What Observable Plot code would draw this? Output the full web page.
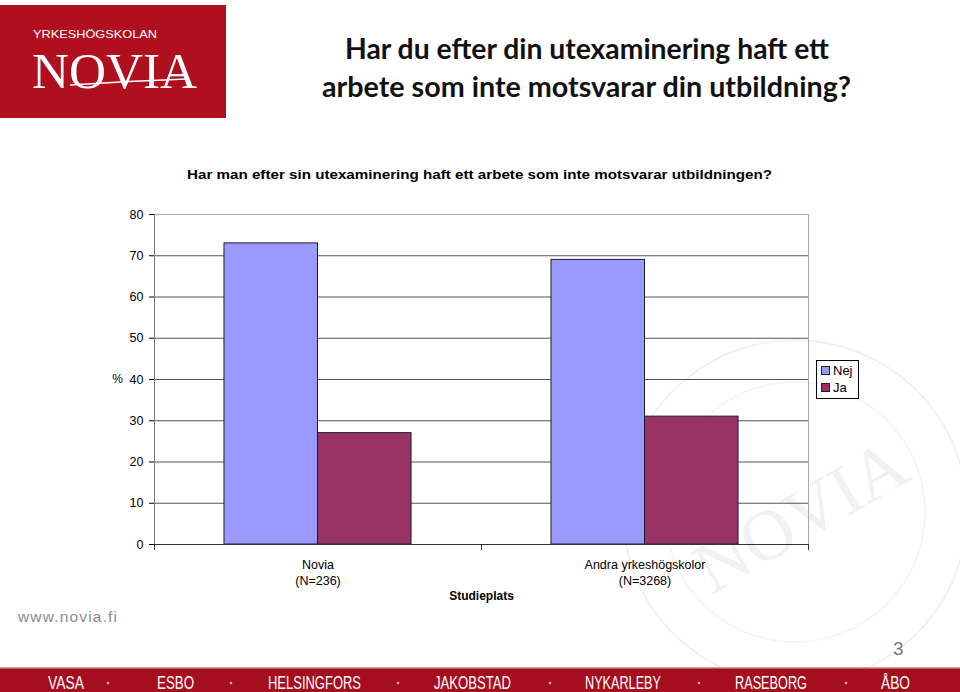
<!DOCTYPE html>
<html>
<head>
<meta charset="utf-8">
<script src="https://cdn.jsdelivr.net/npm/d3@7"></script>
<script src="https://cdn.jsdelivr.net/npm/@observablehq/plot@0.6"></script>
<style>
  html, body { margin: 0; padding: 0; background: #fff; }
  #page { position: relative; width: 960px; height: 692px; overflow: hidden; background: #fff; }
  #deco { position: absolute; left: 0; top: 0; }
  #chart { position: absolute; left: 0; top: 190px; }
  #legend { position: absolute; left: 816px; top: 360px; width: 41px; height: 37px; border: 1px solid #000; background: #fff;
            font-family: "Liberation Sans", Arial, sans-serif; font-size: 13px; color: #000; }
  #legend .item { position: absolute; left: 4px; height: 14px; line-height: 14px; white-space: nowrap; }
  #legend .sw { display: inline-block; width: 7px; height: 7px; border: 1px solid #222; margin-right: 3px; vertical-align: 0px; }
</style>
</head>
<body>
<div id="page">
  <svg id="deco" width="960" height="692"></svg>
  <div id="chart"></div>
  <div id="legend"></div>
</div>
<script>
// ---- data ----
const categories = ["Novia", "Andra yrkeshögskolor"];
const categoryNotes = ["(N=236)", "(N=3268)"];
const series = ["Nej", "Ja"];
const nejValues = [73, 69];
const jaValues = [27, 31];
const yTicks = [0, 10, 20, 30, 40, 50, 60, 70, 80];
const colors = ["#9999FF", "#993366"];
const pageTitle = ["Har du efter din utexaminering haft ett", "arbete som inte motsvarar din utbildning?"];
const chartTitle = "Har man efter sin utexaminering haft ett arbete som inte motsvarar utbildningen?";
const xLabel = "Studieplats";
const yLabel = "%";
const towns = ["VASA", "ESBO", "HELSINGFORS", "JAKOBSTAD", "NYKARLEBY", "RASEBORG", "ÅBO"];

// ---- decoration (slide) ----
const ns = "http://www.w3.org/2000/svg";
const deco = document.getElementById("deco");
function el(tag, attrs, text) {
  const e = document.createElementNS(ns, tag);
  for (const k in attrs) e.setAttribute(k, attrs[k]);
  if (text != null) e.textContent = text;
  deco.appendChild(e);
  return e;
}
// watermark seal
el("circle", {cx: 795, cy: 512, r: 172, fill: "none", stroke: "#f1f1f1", "stroke-width": 2});
el("circle", {cx: 795, cy: 512, r: 130, fill: "none", stroke: "#f4f4f4", "stroke-width": 1.5});
el("text", {x: 800, y: 540, "text-anchor": "middle", transform: "rotate(-30 800 515)", fill: "#f1f1f1",
  "font-family": "Liberation Serif, serif", "font-size": 72}, "NOVIA");
// logo
el("rect", {x: 0, y: 5, width: 226, height: 113, fill: "#AF0F1E"});
el("text", {x: 33, y: 38, fill: "#fff", "font-family": "Liberation Sans, Arial, sans-serif", "font-size": 11.5,
  textLength: 124, lengthAdjust: "spacingAndGlyphs"}, "YRKESHÖGSKOLAN");
el("text", {x: 32, y: 88, fill: "#fff", "font-family": "Liberation Serif, serif", "font-size": 50,
  textLength: 165, lengthAdjust: "spacingAndGlyphs"}, "NOVIA");
el("path", {d: "M70 85 Q130 81 186 79", stroke: "#fff", "stroke-width": 1.3, fill: "none"});
// page title
el("text", {x: 345, y: 59, fill: "#111", "font-family": "Lato, 'Open Sans', sans-serif", "font-weight": 700, "font-size": 29,
  textLength: 484, lengthAdjust: "spacingAndGlyphs"}, pageTitle[0]);
el("text", {x: 322, y: 97, fill: "#111", "font-family": "Lato, 'Open Sans', sans-serif", "font-weight": 700, "font-size": 29,
  textLength: 529, lengthAdjust: "spacingAndGlyphs"}, pageTitle[1]);
// chart title
el("text", {x: 187, y: 179, fill: "#000", "font-family": "Liberation Sans, Arial, sans-serif", "font-weight": 700, "font-size": 13.5,
  textLength: 585, lengthAdjust: "spacingAndGlyphs"}, chartTitle);
// www
el("text", {x: 18, y: 622, fill: "#8c8c8c", "font-family": "Liberation Sans, Arial, sans-serif", "font-size": 15.5,
  textLength: 99, lengthAdjust: "spacing"}, "www.novia.fi");
// page number
el("text", {x: 893, y: 655, fill: "#7a7a7a", "font-family": "Liberation Sans, Arial, sans-serif", "font-size": 19}, "3");
// footer band
el("rect", {x: 0, y: 668, width: 960, height: 24, fill: "#A50E1F"});
el("rect", {x: 0, y: 667, width: 960, height: 1.5, fill: "#d9a0a6"});
const townX = [[48, 36], [157, 37], [268, 93], [434, 77], [585, 76], [735, 72], [881, 29]];
towns.forEach((t, i) => {
  el("text", {x: townX[i][0], y: 689, fill: "#fff", "font-family": "Liberation Sans, Arial, sans-serif", "font-size": 17.5,
    textLength: townX[i][1], lengthAdjust: "spacingAndGlyphs"}, t);
});
[108, 231, 398, 550, 699, 846].forEach(x => el("circle", {cx: x, cy: 683, r: 1.3, fill: "#e7b3b9"}));

// ---- chart ----
const rows = [];
categories.forEach((c, i) => {
  rows.push({category: c, series: series[0], value: nejValues[i]});
  rows.push({category: c, series: series[1], value: jaValues[i]});
});
const W = 960, H = 430, mL = 154, mR = 152, mT = 24, mB = 76;
const padIn = 0.428, padOut = 0.214;
const step = (W - mL - mR) / (categories.length - padIn + 2 * padOut);
const bw = step * (1 - padIn);
const labelOf = new Map(categories.map((c, i) => [c, c + "\n" + categoryNotes[i]]));

const chart = Plot.plot({
  width: W, height: H,
  marginLeft: mL, marginRight: mR, marginTop: mT, marginBottom: mB,
  style: {fontFamily: "Liberation Sans, Arial, sans-serif", fontSize: "12px", background: "transparent", color: "#000", overflow: "visible"},
  x: {domain: categories, paddingInner: padIn, paddingOuter: padOut, round: false, axis: null},
  y: {domain: [0, 80], axis: null},
  color: {domain: series, range: colors},
  marks: [
    Plot.frame({stroke: "#a8a8a8"}),
    Plot.ruleY(yTicks.filter(t => t > 0 && t < 80), {stroke: "#555"}),
    Plot.barY(rows.filter(d => d.series === series[0]), {x: "category", y: "value", fill: "series", stroke: "#1c1c2e", strokeWidth: 1, insetRight: bw / 2}),
    Plot.barY(rows.filter(d => d.series === series[1]), {x: "category", y: "value", fill: "series", stroke: "#1c1c2e", strokeWidth: 1, insetLeft: bw / 2}),
    Plot.ruleX([categories[0]], {x: d => d, dx: -step / 2, y1: () => 0, y2: () => 80, stroke: "#7a7a7a"}),
    Plot.ruleY([0], {stroke: "#333"}),
    Plot.ruleX(categories, {x: d => d, dx: step / 2, y1: () => 0, y2: () => 0, insetBottom: -6, stroke: "#333"}),
    Plot.ruleX([categories[0]], {x: d => d, dx: -step / 2, y1: () => 0, y2: () => 0, insetBottom: -6, stroke: "#333"}),
    Plot.axisY({ticks: yTicks, tickSize: 5, tickPadding: 6, label: null, fontSize: 12.5}),
    Plot.text(categories, {x: d => d, y: () => 0, text: d => labelOf.get(d), dy: 13, lineAnchor: "top", lineHeight: 1.3, fontSize: 12.5}),
    Plot.text([xLabel], {text: d => d, frameAnchor: "bottom", dy: 55, fontWeight: "bold", fontSize: 12}),
    Plot.text([yLabel], {text: d => d, frameAnchor: "left", textAnchor: "middle", dx: -37, fontSize: 12})
  ]
});
document.getElementById("chart").appendChild(chart);

// legend
const legend = document.getElementById("legend");
series.forEach((s, i) => {
  const item = document.createElement("div");
  item.className = "item";
  item.style.top = (i === 0 ? 3 : 20) + "px";
  const sw = document.createElement("span");
  sw.className = "sw";
  sw.style.background = colors[i];
  item.appendChild(sw);
  item.appendChild(document.createTextNode(s));
  legend.appendChild(item);
});
</script>
</body>
</html>
